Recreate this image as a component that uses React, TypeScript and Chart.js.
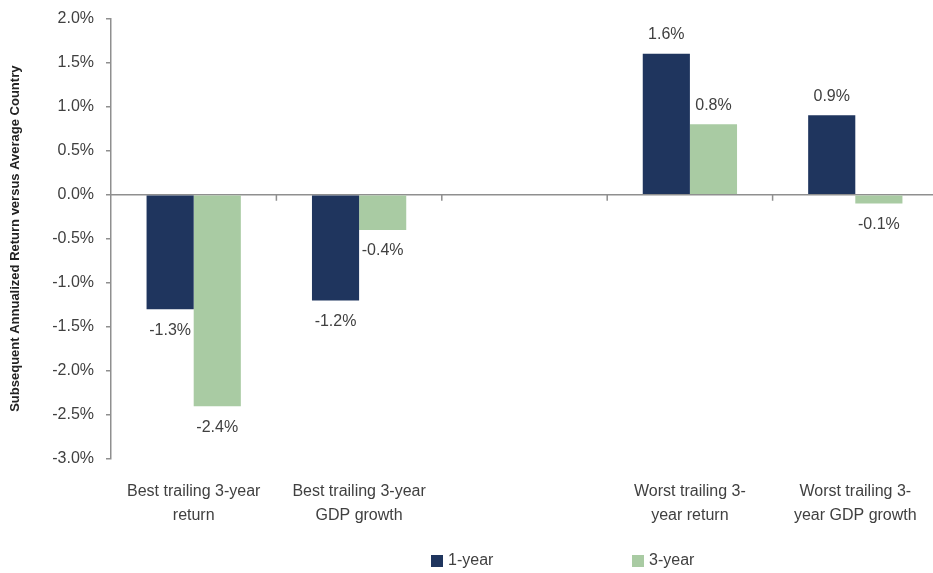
import React, { useEffect, useRef } from "react";
import { Chart, registerables } from "chart.js";

Chart.register(...registerables);

const categories: (string | string[])[] = [
  ["Best trailing 3-year", "return"],
  ["Best trailing 3-year", "GDP growth"],
  "",
  ["Worst trailing 3-", "year return"],
  ["Worst trailing 3-", "year GDP growth"],
];
const oneYear: (number | null)[] = [-1.3, -1.2, null, 1.6, 0.9];
const threeYear: (number | null)[] = [-2.4, -0.4, null, 0.8, -0.1];
const seriesNames = ["1-year", "3-year"];
const seriesColors = ["#1F355E", "#A9CBA3"];
const yTitle = "Subsequent Annualized Return versus Average Country";

const FONT = "'Liberation Sans', Arial, sans-serif";
const TEXT = "#404040";
const AXIS = "#8f8f8f";

const fmt = (v: number) => v.toFixed(1) + "%";

const overlayPlugin = {
  id: "overlay",
  beforeDatasetsDraw(chart: any) {
    const { ctx, chartArea, scales } = chart;
    const x = scales.x;
    const y = scales.y;
    const y0 = y.getPixelForValue(0);
    ctx.save();
    ctx.strokeStyle = AXIS;
    ctx.lineWidth = 1.5;
    ctx.beginPath();
    ctx.moveTo(chartArea.left, y0);
    ctx.lineTo(chartArea.right, y0);
    const n = categories.length;
    for (let i = 1; i <= n; i++) {
      const bx = (x.getPixelForValue(i - 1) + x.getPixelForValue(i)) / 2;
      ctx.moveTo(bx, y0);
      ctx.lineTo(bx, y0 + 6);
    }
    ctx.stroke();
    ctx.restore();
  },
  afterDatasetsDraw(chart: any) {
    const { ctx } = chart;
    ctx.save();
    ctx.font = `16px ${FONT}`;
    ctx.fillStyle = TEXT;
    ctx.textAlign = "center";
    ctx.textBaseline = "middle";
    chart.data.datasets.forEach((ds: any, di: number) => {
      const meta = chart.getDatasetMeta(di);
      meta.data.forEach((el: any, i: number) => {
        const v = ds.data[i];
        if (v === null || v === undefined) return;
        const ty = v >= 0 ? el.y - 19 : el.y + 21;
        ctx.fillText(fmt(v), el.x, ty);
      });
    });
    // custom legend
    const legendX = [431, 632];
    const legendY = 561;
    chart.data.datasets.forEach((ds: any, di: number) => {
      const lx = legendX[di];
      ctx.fillStyle = ds.backgroundColor;
      ctx.fillRect(lx, legendY - 6, 12, 12);
      ctx.fillStyle = TEXT;
      ctx.textAlign = "left";
      ctx.fillText(ds.label, lx + 17, legendY);
    });
    ctx.restore();
  },
};

export default function App() {
  const ref = useRef<HTMLCanvasElement | null>(null);

  useEffect(() => {
    if (!ref.current) return;
    const chart = new Chart(ref.current, {
      type: "bar",
      data: {
        labels: categories as any,
        datasets: [
          {
            label: seriesNames[0],
            data: oneYear,
            backgroundColor: seriesColors[0],
            categoryPercentage: 0.57,
            barPercentage: 1,
          },
          {
            label: seriesNames[1],
            data: threeYear,
            backgroundColor: seriesColors[1],
            categoryPercentage: 0.57,
            barPercentage: 1,
          },
        ],
      },
      options: {
        responsive: false,
        animation: false,
        devicePixelRatio: 1,
        layout: { padding: { left: 0, top: 13, right: 8, bottom: 0 } },
        plugins: {
          legend: { display: false },
          tooltip: { enabled: false },
        },
        scales: {
          x: {
            offset: true,
            grid: { display: false },
            border: { display: false },
            ticks: {
              autoSkip: false,
              maxRotation: 0,
              minRotation: 0,
              padding: 13,
              color: TEXT,
              font: { family: FONT, size: 16, lineHeight: 1.5 },
            },
            afterFit: (scale: any) => {
              scale.height = 114;
            },
          },
          y: {
            min: -3,
            max: 2,
            ticks: {
              stepSize: 0.5,
              padding: 12,
              color: TEXT,
              font: { family: FONT, size: 16, lineHeight: 0.8 },
              callback: (v: any) => fmt(Number(v)),
            },
            grid: {
              drawOnChartArea: false,
              drawTicks: true,
              tickLength: 5,
              color: AXIS,
              lineWidth: 1.5,
            },
            border: { display: true, color: AXIS, width: 1.5 },
            title: {
              display: true,
              text: yTitle,
              color: "#222",
              font: { family: FONT, size: 13, weight: "bold" },
              padding: { top: 8, bottom: 0 },
            },
            afterFit: (scale: any) => {
              scale.width = 111;
            },
          },
        },
      },
      plugins: [overlayPlugin],
    });
    return () => chart.destroy();
  }, []);

  return (
    <div
      style={{
        position: "absolute",
        left: 0,
        top: 0,
        width: 933,
        height: 573,
        overflow: "hidden",
        background: "#fff",
      }}
    >
      <canvas ref={ref} width={946} height={573} style={{ display: "block" }} />
    </div>
  );
}
